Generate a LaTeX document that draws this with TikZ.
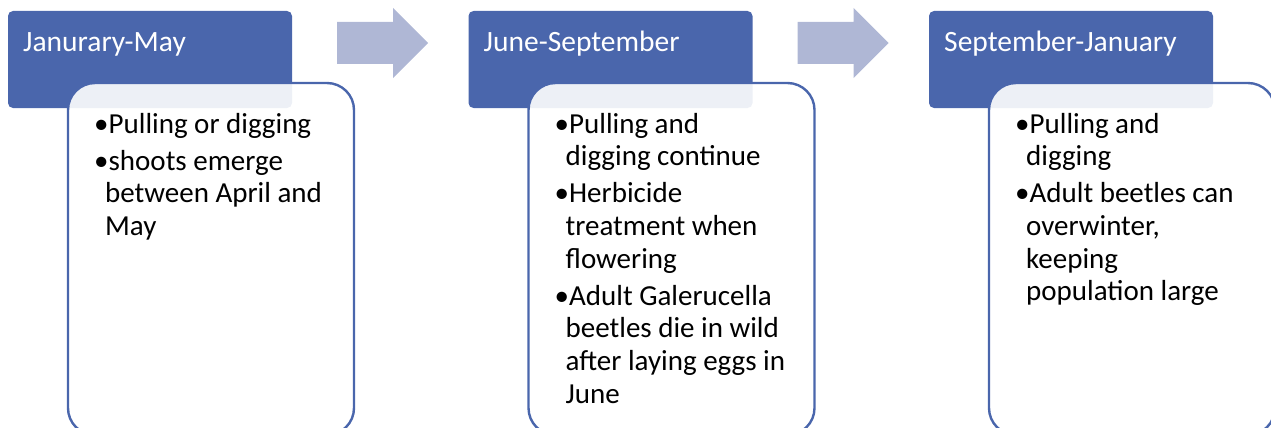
\documentclass[tikz,border=0pt]{standalone}
\usepackage{fontspec}
\setmainfont{Carlito}
\definecolor{hdr}{HTML}{4A66AC}
\definecolor{arr}{HTML}{AFB7D5}
\tikzset{
 hdrbox/.style={fill=hdr, rounded corners=5pt, minimum width=284pt, minimum height=97pt, anchor=north west, inner sep=0, outer sep=0},
 bodybox/.style={draw=hdr, line width=2.4pt, fill=white, fill opacity=0.9, rounded corners=27pt, minimum width=286pt, minimum height=352pt, anchor=north west, inner sep=0, outer sep=0},
 hdrtext/.style={text=white, font=\fontsize{29.5}{34}\selectfont, inner sep=0, anchor=base west},
 bodytext/.style={font=\fontsize{29}{32.7}\selectfont, inner sep=0, anchor=base west}
}
\newcommand{\bitem}[1]{\hangindent=11pt\hangafter=1 \textbullet#1\par\vspace{4.3pt}}
\newcommand{\blist}[1]{\begin{minipage}[t]{262pt}\raggedright #1\end{minipage}}
\begin{document}
\begin{tikzpicture}[x=1pt,y=-1pt]
\useasboundingbox (0,0) rectangle (1271,428);
\clip (0,0) rectangle (1271,428);
% headers
\node[hdrbox] (h1) at (8,11) {};
\node[hdrbox] (h2) at (468.5,11) {};
\node[hdrbox] (h3) at (929,11) {};
\node[hdrtext] (t1) at (23,52) {Janurary-May};
\node[hdrtext] (t2) at (483.5,52) {June-September};
\node[hdrtext] (t3) at (944,52) {September-January};
% arrows
\fill[arr] (337,22) -- (393,22) -- (393,8) -- (428,43) -- (393,78) -- (393,64) -- (337,64) -- cycle;
\fill[arr] (797.5,22) -- (853.5,22) -- (853.5,8) -- (888.5,43) -- (853.5,78) -- (853.5,64) -- (797.5,64) -- cycle;
% body boxes
\node[bodybox] (b1) at (68,83) {};
\node[bodybox] (b2) at (528.5,83) {};
\node[bodybox] (b3) at (989,83) {};
% body texts
\node[bodytext] (l1) at (94,133) {\blist{%
\bitem{Pulling or digging}
\bitem{shoots emerge\newline between April and\newline May}}};
\node[bodytext] (l2) at (554.5,133) {\blist{%
\bitem{Pulling and\newline digging continue}
\bitem{Herbicide\newline treatment when\newline flowering}
\bitem{Adult Galerucella\newline beetles die in wild\newline after laying eggs in\newline June}}};
\node[bodytext] (l3) at (1015,133) {\blist{%
\bitem{Pulling and\newline digging}
\bitem{Adult beetles can\newline overwinter,\newline keeping\newline population large}}};
\end{tikzpicture}
\end{document}
